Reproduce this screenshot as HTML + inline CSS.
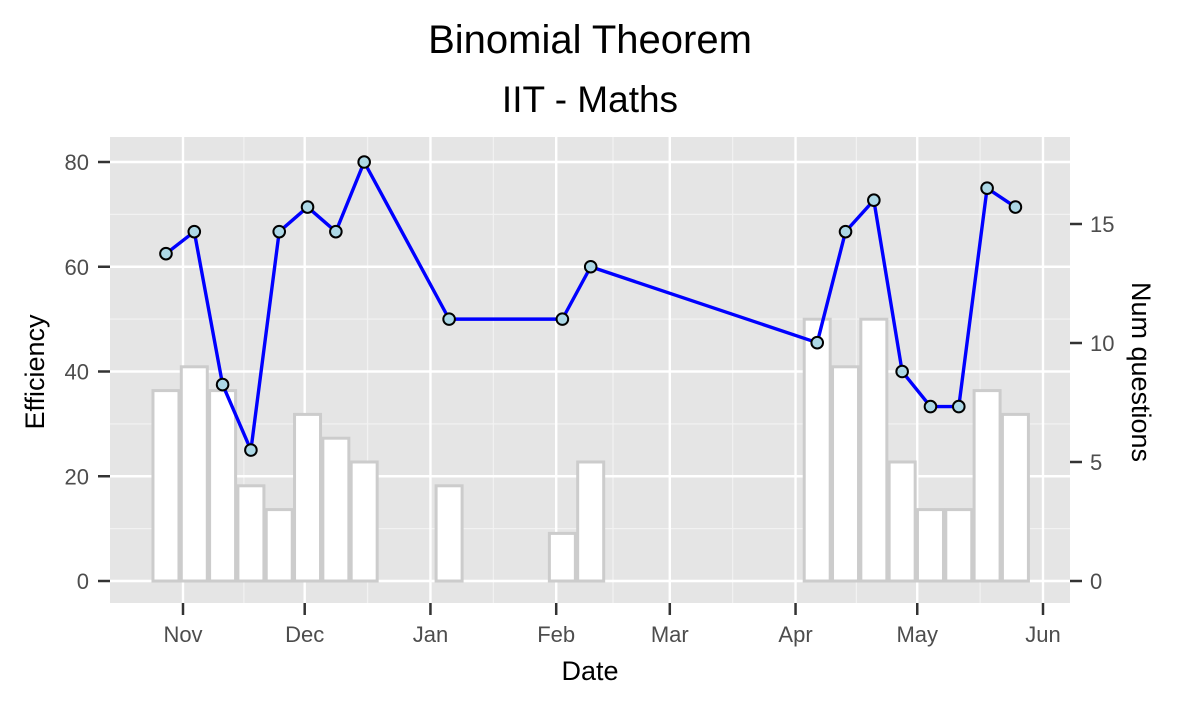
<!DOCTYPE html>
<html><head><meta charset="utf-8"><style>
html,body{margin:0;padding:0;background:#fff;}
svg{display:block;font-family:"Liberation Sans",Arial,sans-serif;}
</style></head><body>
<svg id="chart" width="1181" height="708" viewBox="0 0 1181 708">
<defs><clipPath id="panelclip"><rect x="110" y="137" width="960" height="466"/></clipPath></defs>
<text x="590" y="53" text-anchor="middle" font-size="40" fill="#000">Binomial Theorem</text>
<text x="590" y="112" text-anchor="middle" font-size="37" fill="#000">IIT - Maths</text>
<rect x="110" y="137" width="960" height="466" fill="#e5e5e5"/>
<g id="grid" clip-path="url(#panelclip)"></g>
<g id="bars"></g>
<g id="line"></g>
<g id="axes"></g>
<text x="590" y="680" text-anchor="middle" font-size="27" fill="#000">Date</text>
<text transform="translate(44,372) rotate(-90)" text-anchor="middle" font-size="27" fill="#000">Efficiency</text>
<text transform="translate(1132,372) rotate(90)" text-anchor="middle" font-size="27" fill="#000">Num questions</text>
</svg>
<script>
const weeks = [0,1,2,3,4,5,6,7,10,14,15,23,24,25,26,27,28,29,30];
const efficiency = [62.5,66.7,37.5,25,66.7,71.4,66.7,80,50,50,60,45.5,66.7,72.7,40,33.3,33.3,75,71.4];
const numQuestions = [8,9,8,4,3,7,6,5,4,2,5,11,9,11,5,3,3,8,7];
const monthLabels = ["Nov","Dec","Jan","Feb","Mar","Apr","May","Jun"];
const monthDays = [0,30,61,92,120,151,181,212];
const leftTicks = [0,20,40,60,80];
const rightTicks = [0,5,10,15];

const NS="http://www.w3.org/2000/svg";
const firstDay=-4.2;
function xDay(d){return 183+(1043-183)*d/212;}
function xWeek(w){return xDay(firstDay+6.98*w);}
function yL(v){return 581-v*(581-162)/80;}
function yR(v){return 581-v*(581-224)/15;}
function mk(tag,attrs,parent){const e=document.createElementNS(NS,tag);for(const k in attrs)e.setAttribute(k,attrs[k]);parent.appendChild(e);return e;}
const grid=document.getElementById('grid');
const minorDays=[-30.5];
for(let i=0;i<monthDays.length-1;i++)minorDays.push((monthDays[i]+monthDays[i+1])/2);
minorDays.forEach(d=>{const l=mk('line',{x1:xDay(d),x2:xDay(d),y1:137,y2:603,stroke:'#f2f2f2','stroke-width':1.2},grid);

});
[10,30,50,70].forEach(v=>{const l=mk('line',{x1:110,x2:1070,y1:yL(v),y2:yL(v),stroke:'#f2f2f2','stroke-width':1.2},grid);

});
monthDays.forEach(d=>{const l=mk('line',{x1:xDay(d),x2:xDay(d),y1:137,y2:603,stroke:'#fff','stroke-width':2.4},grid);

});
leftTicks.forEach(v=>{const l=mk('line',{x1:110,x2:1070,y1:yL(v),y2:yL(v),stroke:'#fff','stroke-width':2.4},grid);

});
const bars=document.getElementById('bars');
const bw=26;
const wk=weeks.slice(0,numQuestions.length);
wk.forEach((w,i)=>{const x=xWeek(w);const t=yR(numQuestions[i]);
const r=mk('rect',{x:x-bw/2,y:t,width:bw,height:581-t,fill:'#fff',stroke:'#cccccc','stroke-width':3},bars);

});
const lg=document.getElementById('line');
const pts=wk.map((w,i)=>xWeek(w)+','+yL(efficiency[i])).join(' ');
const pl=mk('polyline',{points:pts,fill:'none',stroke:'#0000ff','stroke-width':3.4,'stroke-linejoin':'round'},lg);


wk.forEach((w,i)=>{const c=mk('circle',{cx:xWeek(w),cy:yL(efficiency[i]),r:5.8,fill:'#add8e6',stroke:'#000','stroke-width':2},lg);

});
const ax=document.getElementById('axes');
leftTicks.forEach(v=>{mk('line',{x1:98,x2:110,y1:yL(v),y2:yL(v),stroke:'#333','stroke-width':2.5},ax);
const t=mk('text',{x:89,y:yL(v)+8,'text-anchor':'end','font-size':22,fill:'#4d4d4d'},ax);t.textContent=v;

});
rightTicks.forEach(v=>{mk('line',{x1:1070,x2:1082,y1:yR(v),y2:yR(v),stroke:'#333','stroke-width':2.5},ax);
const t=mk('text',{x:1090,y:yR(v)+8,'text-anchor':'start','font-size':22,fill:'#4d4d4d'},ax);t.textContent=v;

});
monthDays.forEach((d,i)=>{mk('line',{x1:xDay(d),x2:xDay(d),y1:603,y2:615,stroke:'#333','stroke-width':2.5},ax);
const t=mk('text',{x:xDay(d),y:642,'text-anchor':'middle','font-size':22,fill:'#4d4d4d'},ax);t.textContent=monthLabels[i];

});
</script>
</body></html>
